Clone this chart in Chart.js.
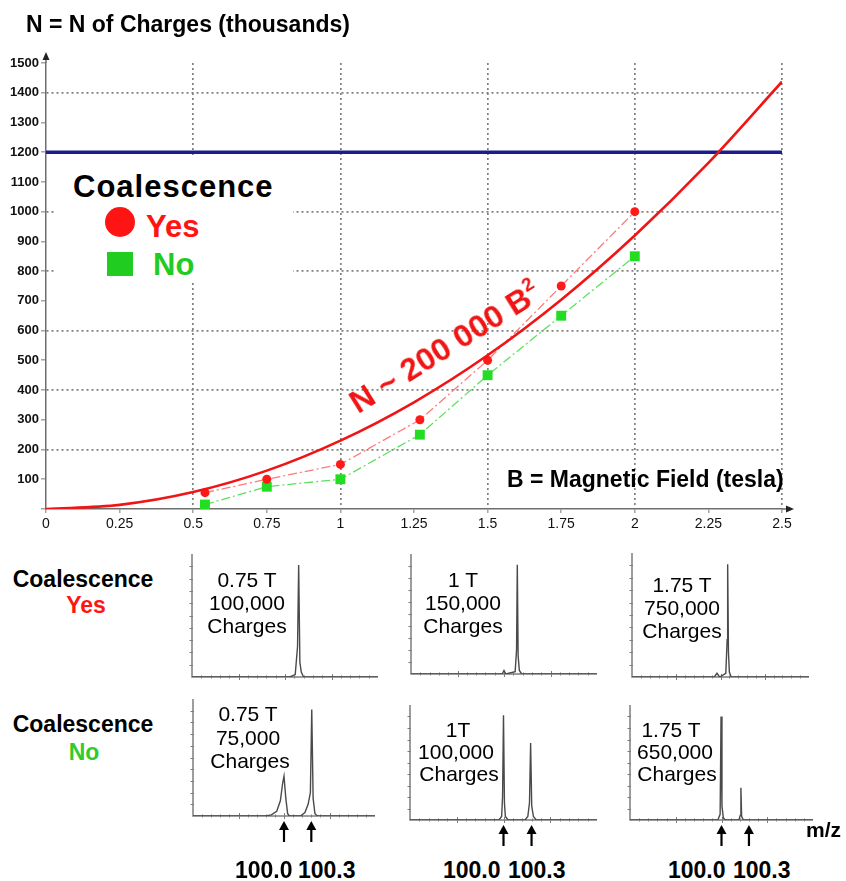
<!DOCTYPE html>
<html>
<head>
<meta charset="utf-8">
<script src="https://cdn.jsdelivr.net/npm/chart.js@4.4.1/dist/chart.umd.min.js"></script>
<style>
  html, body { margin: 0; padding: 0; background: #fff; }
  #fig { position: relative; width: 846px; height: 881px; overflow: hidden;
         font-family: "Liberation Sans", Arial, sans-serif; background: #fff; }
  #fig canvas { position: absolute; }
  .t { position: absolute; white-space: nowrap; line-height: 1; }
  .b { font-weight: bold; }
  .c { transform: translateX(-50%); }
  .p { font-size: 21px; color: #000; }
  .rowlab { font-size: 23px; font-weight: bold; color: #000; }
  .mz { font-size: 23px; font-weight: bold; color: #000; }
</style>
</head>
<body>
<div id="fig">
  <canvas id="main" width="846" height="540" style="left:0;top:0"></canvas>

  <!-- legend backing box over the grid -->
  <div style="position:absolute;left:55px;top:158px;width:238px;height:125px;background:#fff"></div>

  <div class="t b" style="left:26px;top:12.5px;font-size:23px;color:#000">N = N of Charges (thousands)</div>
  <div class="t b" style="left:507px;top:467.5px;font-size:23px;color:#000">B = Magnetic Field (tesla)</div>

  <div class="t b" style="left:73px;top:170.8px;font-size:31px;letter-spacing:1px;color:#000">Coalescence</div>
  <div style="position:absolute;left:105px;top:207px;width:30px;height:30px;border-radius:50%;background:#ff1414"></div>
  <div class="t b" style="left:146px;top:210.8px;font-size:31px;color:#ff1414">Yes</div>
  <div style="position:absolute;left:107px;top:252px;width:26px;height:24px;background:#1fcc1f"></div>
  <div class="t b" style="left:153px;top:248.8px;font-size:31px;color:#1fcc1f">No</div>

  <div class="t b" style="left:444px;top:346px;font-size:32px;color:#f01414;transform:translate(-50%,-50%) rotate(-32deg)">N ~ 200 000 B<sup style="font-size:0.6em;vertical-align:0.75em">2</sup></div>

  <!-- row labels -->
  <div class="t c rowlab" style="left:83px;top:567.5px">Coalescence</div>
  <div class="t c rowlab" style="left:86px;top:593.5px;color:#ff1414">Yes</div>
  <div class="t c rowlab" style="left:83px;top:712.5px">Coalescence</div>
  <div class="t c rowlab" style="left:84px;top:740.5px;color:#2ecc2e">No</div>

  <!-- spectrum captions -->
  <div class="t c p" style="left:247px;top:569.2px">0.75 T</div>
  <div class="t c p" style="left:247px;top:592.2px">100,000</div>
  <div class="t c p" style="left:247px;top:615.2px">Charges</div>

  <div class="t c p" style="left:463px;top:569.2px">1 T</div>
  <div class="t c p" style="left:463px;top:592.2px">150,000</div>
  <div class="t c p" style="left:463px;top:615.2px">Charges</div>

  <div class="t c p" style="left:682px;top:574.2px">1.75 T</div>
  <div class="t c p" style="left:682px;top:597.2px">750,000</div>
  <div class="t c p" style="left:682px;top:620.2px">Charges</div>

  <div class="t c p" style="left:248px;top:703.2px">0.75 T</div>
  <div class="t c p" style="left:248px;top:727.2px">75,000</div>
  <div class="t c p" style="left:250px;top:750.2px">Charges</div>

  <div class="t c p" style="left:458px;top:719.2px">1T</div>
  <div class="t c p" style="left:456px;top:741.2px">100,000</div>
  <div class="t c p" style="left:459px;top:763.2px">Charges</div>

  <div class="t c p" style="left:671px;top:719.2px">1.75 T</div>
  <div class="t c p" style="left:675px;top:741.2px">650,000</div>
  <div class="t c p" style="left:677px;top:763.2px">Charges</div>

  <!-- m/z labels under the arrows -->
  <div class="t mz" style="left:235px;top:858.5px">100.0</div>
  <div class="t mz" style="left:298px;top:858.5px">100.3</div>
  <div class="t mz" style="left:443px;top:858.5px">100.0</div>
  <div class="t mz" style="left:508px;top:858.5px">100.3</div>
  <div class="t mz" style="left:668px;top:858.5px">100.0</div>
  <div class="t mz" style="left:733px;top:858.5px">100.3</div>
  <div class="t b" style="left:806px;top:818.5px;font-size:21px;color:#000">m/z</div>
</div>

<script>
// ---- magnetic field vs number of charges ----
const fieldTesla   = [0.54, 0.75, 1.0, 1.27, 1.5, 1.75, 2.0];
const chargesYes   = [55, 100, 150, 300, 500, 750, 1000];
const chargesNo    = [15, 75, 100, 250, 450, 650, 850];

// quadratic trend line, sampled along the field axis
const trendField   = [0, 0.25, 0.5, 0.75, 1.0, 1.25, 1.5, 1.75, 2.0, 2.25, 2.5];
const trendCharges = [0, 14, 57, 129, 230, 359, 517, 704, 920, 1164, 1437];

// space-charge limit
const limitCharges = 1200;

// ---- spectra (m/z, relative intensity) ----
const specYes075Mz  = [99.0, 100.05, 100.11, 100.135, 100.147, 100.16, 100.175, 100.2, 101.0];
const specYes075Int = [0, 0, 0.02, 0.25, 0.91, 0.12, 0.04, 0, 0];

const specYes1Mz  = [99.0, 99.98, 100.0, 100.02, 100.12, 100.135, 100.143, 100.152, 100.165, 100.19, 101.0];
const specYes1Int = [0, 0, 0.03, 0, 0.02, 0.2, 0.91, 0.15, 0.03, 0, 0];

const specYes175Mz  = [99.0, 99.93, 99.96, 99.99, 100.06, 100.075, 100.081, 100.09, 100.1, 100.12, 101.0];
const specYes175Int = [0, 0, 0.03, 0, 0.03, 0.3, 0.91, 0.2, 0.04, 0, 0];

const specNo075Mz  = [99.0, 99.8, 99.86, 99.92, 99.96, 99.985, 100.0, 100.02, 100.04, 100.06,
                      100.18, 100.23, 100.265, 100.29, 100.305, 100.32, 100.34, 100.37, 101.0];
const specNo075Int = [0, 0, 0.01, 0.04, 0.13, 0.28, 0.34, 0.15, 0.02, 0,
                      0, 0.03, 0.1, 0.2, 0.91, 0.15, 0.02, 0, 0];

const specNo1Mz  = [99.0, 99.95, 99.98, 99.99, 100.0, 100.01, 100.02, 100.05,
                    100.23, 100.26, 100.278, 100.29, 100.302, 100.32, 100.35, 101.0];
const specNo1Int = [0, 0, 0.03, 0.2, 0.91, 0.15, 0.03, 0,
                    0, 0.03, 0.15, 0.67, 0.12, 0.03, 0, 0];

const specNo175Mz  = [99.0, 99.96, 99.985, 99.995, 100.005, 100.02, 100.04, 100.19, 100.205, 100.212, 100.22, 100.24, 101.0];
const specNo175Int = [0, 0, 0.05, 0.9, 0.12, 0.02, 0, 0, 0.04, 0.28, 0.03, 0, 0];

const isotopeMarks = [100.0, 100.3];
const mzRange = [99.0, 101.0];

const FONT = '"Liberation Sans", Arial, sans-serif';
const toXY = (xs, ys) => xs.map((x, i) => ({ x: x, y: ys[i] }));

// arrowheads on the ends of the main axes
const axisArrows = {
  id: 'axisArrows',
  afterDraw(chart) {
    const { ctx, chartArea: a } = chart;
    ctx.save();
    ctx.strokeStyle = '#6e6e6e';
    ctx.fillStyle = '#222';
    ctx.lineWidth = 1.5;
    ctx.beginPath();
    ctx.moveTo(a.left, a.top); ctx.lineTo(a.left, a.top - 6);
    ctx.moveTo(a.right, a.bottom); ctx.lineTo(a.right + 6, a.bottom);
    ctx.stroke();
    ctx.beginPath();
    ctx.moveTo(a.left, a.top - 11);
    ctx.lineTo(a.left - 3.5, a.top - 3);
    ctx.lineTo(a.left + 3.5, a.top - 3);
    ctx.closePath(); ctx.fill();
    ctx.beginPath();
    ctx.moveTo(a.right + 12, a.bottom);
    ctx.lineTo(a.right + 4, a.bottom - 3.5);
    ctx.lineTo(a.right + 4, a.bottom + 3.5);
    ctx.closePath(); ctx.fill();
    ctx.restore();
  }
};

const dotted = '#808080';
const clear = 'rgba(0,0,0,0)';

new Chart(document.getElementById('main'), {
  type: 'line',
  data: {
    datasets: [
      {
        label: 'N ~ 200 000 B²',
        data: toXY(trendField, trendCharges),
        borderColor: '#f01414', borderWidth: 2.6,
        pointRadius: 0, cubicInterpolationMode: 'monotone', order: 0
      },
      {
        label: 'limit',
        data: [{ x: 0, y: limitCharges }, { x: 2.5, y: limitCharges }],
        borderColor: '#1c1c8e', borderWidth: 3.5, pointRadius: 0, order: 3
      },
      {
        label: 'Yes',
        data: toXY(fieldTesla, chargesYes),
        borderColor: '#ff7a7a', borderWidth: 1.3, borderDash: [9, 3, 2, 3],
        pointStyle: 'circle', pointRadius: 4.5, pointBorderWidth: 0,
        pointBackgroundColor: '#ff1a1a', order: 1
      },
      {
        label: 'No',
        data: toXY(fieldTesla, chargesNo),
        borderColor: '#5ee05e', borderWidth: 1.3, borderDash: [9, 3, 2, 3],
        pointStyle: 'rect', pointRadius: 7, pointBorderWidth: 0,
        pointBackgroundColor: '#22dd22', order: 2
      }
    ]
  },
  options: {
    responsive: false,
    animation: false,
    layout: { padding: { left: 6, right: 64, top: 63, bottom: 0 } },
    plugins: { legend: { display: false }, tooltip: { enabled: false } },
    scales: {
      x: {
        type: 'linear', min: 0, max: 2.5,
        afterFit: s => { s.height = 31; },
        ticks: {
          stepSize: 0.25, autoSkip: false, maxRotation: 0, padding: 3,
          color: '#111', font: { family: FONT, size: 14 },
          callback: v => String(v)
        },
        grid: {
          color: c => (c.tick && c.tick.value > 0 && Math.abs(c.tick.value * 2 - Math.round(c.tick.value * 2)) < 1e-9) ? dotted : clear,
          lineWidth: 1.7, tickLength: 4, tickColor: '#777', tickWidth: 1
        },
        border: { color: '#6e6e6e', width: 1.5, dash: [2, 3] }
      },
      y: {
        min: 0, max: 1500,
        afterFit: s => { s.width = 40; },
        ticks: {
          stepSize: 100, autoSkip: false, padding: 2,
          color: '#111', font: { family: FONT, size: 13, weight: 'bold' },
          callback: v => v === 0 ? '' : String(v)
        },
        grid: {
          color: c => (c.tick && c.tick.value > 0 && c.tick.value % 200 === 0) ? dotted : clear,
          lineWidth: 1.7, tickLength: 5, tickColor: '#777', tickWidth: 1
        },
        border: { color: '#6e6e6e', width: 1.5, dash: [2, 3] }
      }
    }
  },
  plugins: [axisArrows]
});

// frame, ticks and isotope arrows for the small spectra
const spectrumFrame = {
  id: 'spectrumFrame',
  beforeDatasetsDraw(chart) {
    const { ctx, chartArea: a, scales: { x, y } } = chart;
    ctx.save();
    ctx.strokeStyle = '#7d7d7d';
    ctx.lineWidth = 1.5;
    ctx.beginPath();
    ctx.moveTo(a.left, a.top); ctx.lineTo(a.left, a.bottom); ctx.lineTo(a.right, a.bottom);
    ctx.stroke();
    ctx.lineWidth = 1;
    ctx.beginPath();
    for (let k = 1; k < 10; k++) {
      const py = Math.round(y.getPixelForValue(k / 10)) + 0.5;
      ctx.moveTo(a.left - 2.5, py); ctx.lineTo(a.left + 1, py);
    }
    for (let k = 1; k < 20; k++) {
      const px = Math.round(x.getPixelForValue(mzRange[0] + k / 10)) + 0.5;
      const len = k % 5 === 0 ? 3 : 1.5;
      ctx.moveTo(px, a.bottom - len); ctx.lineTo(px, a.bottom + len);
    }
    ctx.stroke();
    ctx.restore();
  },
  afterDraw(chart, args, opts) {
    if (!opts.arrows) return;
    const { ctx, chartArea: a, scales: { x } } = chart;
    ctx.save();
    ctx.strokeStyle = '#000';
    ctx.fillStyle = '#000';
    ctx.lineWidth = 2.2;
    isotopeMarks.forEach(m => {
      const px = x.getPixelForValue(m);
      const tip = a.bottom + 5;
      ctx.beginPath();
      ctx.moveTo(px, tip + 6); ctx.lineTo(px, tip + 21);
      ctx.stroke();
      ctx.beginPath();
      ctx.moveTo(px, tip);
      ctx.lineTo(px - 5, tip + 9);
      ctx.lineTo(px + 5, tip + 9);
      ctx.closePath(); ctx.fill();
    });
    ctx.restore();
  }
};

const spectra = [
  { mz: specYes075Mz, it: specYes075Int, frame: [192, 554, 677, 378], arrows: false },
  { mz: specYes1Mz,   it: specYes1Int,   frame: [411, 554, 674, 597], arrows: false },
  { mz: specYes175Mz, it: specYes175Int, frame: [632, 553, 677, 809], arrows: false },
  { mz: specNo075Mz,  it: specNo075Int,  frame: [193, 699, 816, 375], arrows: true },
  { mz: specNo1Mz,    it: specNo1Int,    frame: [410, 705, 820, 597], arrows: true },
  { mz: specNo175Mz,  it: specNo175Int,  frame: [630, 705, 820, 813], arrows: true }
];

const fig = document.getElementById('fig');
spectra.forEach(s => {
  const [left, top, base, right] = s.frame;
  const pad = { left: 8, top: 4, right: 8, bottom: s.arrows ? 32 : 8 };
  const cv = document.createElement('canvas');
  cv.width = right - left + pad.left + pad.right;
  cv.height = base - top + pad.top + pad.bottom;
  cv.style.left = (left - pad.left) + 'px';
  cv.style.top = (top - pad.top) + 'px';
  fig.insertBefore(cv, fig.children[1]);
  new Chart(cv, {
    type: 'line',
    data: {
      datasets: [{
        data: toXY(s.mz, s.it),
        borderColor: '#4a4a4a', borderWidth: 1.4, pointRadius: 0, tension: 0
      }]
    },
    options: {
      responsive: false,
      animation: false,
      layout: { padding: pad },
      plugins: { legend: { display: false }, tooltip: { enabled: false }, spectrumFrame: { arrows: s.arrows } },
      scales: {
        x: { type: 'linear', min: mzRange[0], max: mzRange[1], display: false },
        y: { min: 0, max: 1, display: false }
      }
    },
    plugins: [spectrumFrame]
  });
});
</script>
</body>
</html>
